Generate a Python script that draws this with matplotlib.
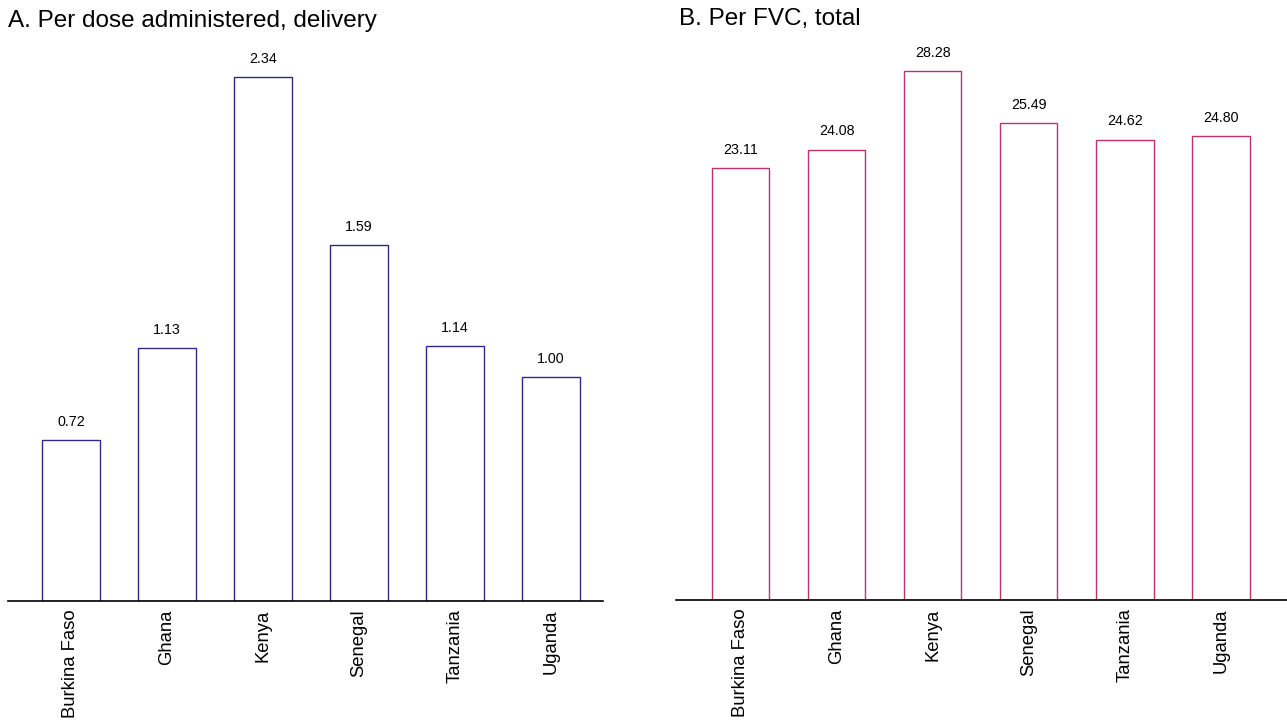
import matplotlib
matplotlib.use("Agg")
import matplotlib.pyplot as plt

plt.rcParams['font.family'] = ['Liberation Sans', 'DejaVu Sans']

countries = ['Burkina Faso', 'Ghana', 'Kenya', 'Senegal', 'Tanzania', 'Uganda']
per_dose_delivery = [0.72, 1.13, 2.34, 1.59, 1.14, 1.00]
per_fvc_total = [23.11, 24.08, 28.28, 25.49, 24.62, 24.80]

W, H = 1287, 721
fig = plt.figure(figsize=(W / 100, H / 100), dpi=100)


def px_axes(left, right, bottom, top):
    return fig.add_axes([left / W, (H - bottom) / H, (right - left) / W, (bottom - top) / H])


def draw_panel(ax, values, color, ymax, xlim):
    x = range(len(values))
    bars = ax.bar(x, values, width=0.6, facecolor='white', edgecolor=color, linewidth=1.0)
    for b, v in zip(bars, values):
        ax.annotate(f'{v:.2f}', (b.get_x() + b.get_width() / 2, v), xytext=(0, 8),
                    textcoords='offset points', ha='center', va='bottom', fontsize=10.3)
    ax.set_xlim(*xlim)
    ax.set_ylim(0, ymax)
    ax.set_xticks(list(x))
    ax.set_xticklabels(countries, rotation=90, fontsize=13.3, va='top')
    ax.tick_params(axis='x', length=0, pad=6)
    ax.set_yticks([])
    for s in ['left', 'right', 'top']:
        ax.spines[s].set_visible(False)
    ax.spines['bottom'].set_linewidth(1.2)
    return ax


ax1 = px_axes(8, 603, 601, 41)
draw_panel(ax1, per_dose_delivery, '#2e2a88', 2.5, (-0.656, 5.54))
fig.text(8 / W, 1 - 21 / H, 'A. Per dose administered, delivery', fontsize=17.5, va='center', ha='left')

ax2 = px_axes(676, 1287, 600, 40)
draw_panel(ax2, per_fvc_total, '#c1306f', 29.94, (-0.672, 5.69))
fig.text(679 / W, 1 - 19 / H, 'B. Per FVC, total', fontsize=17.5, va='center', ha='left')

fig.savefig('out.png', dpi=100)
